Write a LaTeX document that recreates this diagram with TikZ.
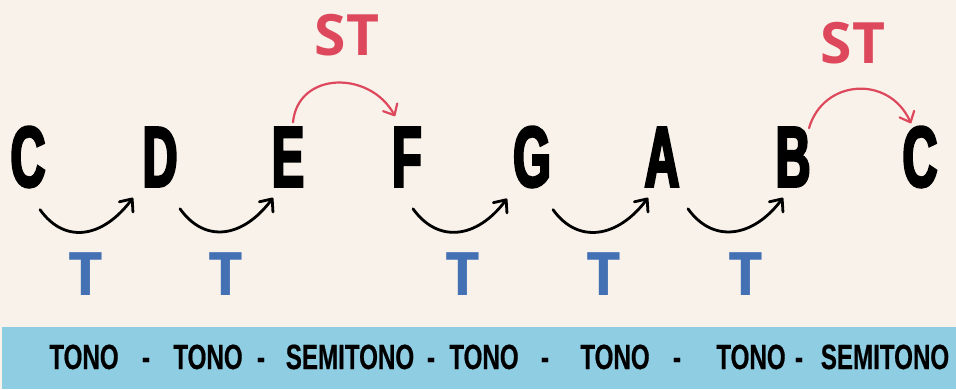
\documentclass[tikz,border=0pt]{standalone}
\usepackage{fontspec}
\usepackage{tikz}
\usetikzlibrary{arrows.meta}
\newfontfamily\notefont[FakeStretch=0.56,FakeBold=3]{Liberation Sans}
\newfontfamily\bandfont[FakeStretch=0.69,FakeBold=0.5]{Liberation Sans}
\newfontfamily\labelfont{Open Sans}
\definecolor{bgcream}{RGB}{249,242,234}
\definecolor{bandblue}{RGB}{142,205,226}
\definecolor{semired}{RGB}{221,72,92}
\definecolor{toneblue}{RGB}{68,112,180}

\begin{document}
\begin{tikzpicture}[x=1pt,y=-1pt,
    note/.style={inner sep=0pt, font=\notefont\bfseries\fontsize{86}{86}\selectfont},
    tonelabel/.style={inner sep=0pt, text=toneblue, font=\labelfont\bfseries\fontsize{60}{60}\selectfont},
    semilabel/.style={inner sep=0pt, text=semired, font=\labelfont\bfseries\fontsize{57}{57}\selectfont},
    bandtext/.style={inner sep=0pt, anchor=base, font=\bandfont\bfseries\fontsize{35}{35}\selectfont},
    tonearrow/.style={line width=2.8pt, line cap=round, -{Straight Barb[length=10pt,width=17pt,round]}},
    semiarrow/.style={semired, line width=2.2pt, line cap=round, -{Straight Barb[length=9pt,width=16pt,round]}}]
    \fill[bgcream] (0,0) rectangle (956,389);
    \fill[bandblue] (2,327) rectangle (956,389);
    % the scale
    \foreach \x/\l/\nm in {28/C/c1,160/D/d,288/E/e,407/F/f,532/G/g,662/A/a,793/B/b,920/C/c2}
        \node[note] (\nm) at (\x,157) {\l};
    % whole tones
    \foreach \p/\q/\sp/\sq in {c1/d/12/-27,d/e/20/-15,f/g/6/-25,g/a/21/-14,a/b/26/-10}
        \draw[tonearrow] ([shift={(\sp,22)}]\p.south) .. controls +(25,35) and +(-30,40) .. ([shift={(\sq,11)}]\q.south);
    \foreach \x [count=\i] in {86,226,463,604,746}
        \node[tonelabel] (t\i) at (\x,274) {T};
    % semitones
    \node[semilabel] (st1) at (347,35) {ST};
    \node[semilabel] (st2) at (853,43) {ST};
    \draw[semiarrow] ([shift={(5,-5)}]e.north) .. controls +(5,-51) and +(-25,-46) .. ([shift={(-12,-11)}]f.north);
    \draw[semiarrow] ([shift={(16,1)}]b.north) .. controls +(14,-49) and +(-22,-49) .. ([shift={(-9,-3)}]c2.north);
    % band
    \foreach \x/\w [count=\i] in {84/TONO,146/-,208/TONO,261/-,350/SEMITONO,431/-,484/TONO,545/-,615/TONO,677/-,751/TONO,799/-,885/SEMITONO}
        \node[bandtext] (w\i) at (\x,369) {\w};
\end{tikzpicture}
\end{document}
